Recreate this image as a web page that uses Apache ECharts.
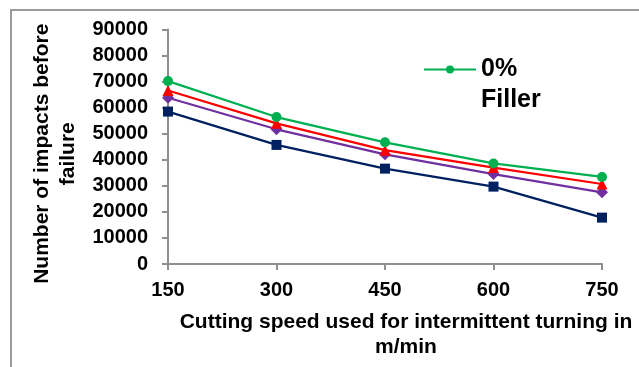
<!DOCTYPE html>
<html>
<head>
<meta charset="utf-8">
<script src="https://cdn.jsdelivr.net/npm/echarts@6/dist/echarts.min.js"></script>
<style>
  html, body { margin: 0; padding: 0; background: #ffffff; }
  #chart { width: 639px; height: 367px; }
</style>
</head>
<body>
<div id="chart"></div>
<script>
// Cutting speeds (m/min) on the category axis
const speeds = ['150', '300', '450', '600', '750'];

// Number of impacts before failure for each material
const filler0 = [70200, 56400, 46700, 38600, 33400];
const series2 = [66600, 54000, 43700, 37000, 30700];
const series3 = [63800, 51700, 42100, 34500, 27500];
const series4 = [58500, 45700, 36600, 29700, 17800];

const yTicks = { min: 0, max: 90000, step: 10000 };

const FONT = '"Liberation Sans", Arial, sans-serif';
const AXIS_GREY = '#8f8f8f';

const chart = echarts.init(document.getElementById('chart'), null, { renderer: 'canvas' });

function lineSeries(name, data, color, symbol, size) {
  return {
    name: name,
    type: 'line',
    data: data,
    symbol: symbol,
    symbolSize: size,
    showSymbol: true,
    smooth: false,
    lineStyle: { color: color, width: 2.25 },
    itemStyle: { color: color, borderWidth: 0 },
    emphasis: { disabled: true },
    animation: false
  };
}

chart.setOption({
  backgroundColor: '#ffffff',
  animation: false,
  grid: { left: 168, right: 37, top: 29.5, bottom: 103, containLabel: false },
  graphic: [{
    type: 'rect',
    shape: { x: 11, y: 10, width: 700, height: 500 },
    style: { fill: 'none', stroke: '#9a9a9a', lineWidth: 2 },
    silent: true,
    z: -10
  }],
  legend: {
    data: ['0% Filler'],
    left: 423,
    top: 23,
    padding: 0,
    itemWidth: 52,
    itemHeight: 10,
    itemGap: 6,
    selectedMode: false,
    formatter: function (name) { return ' \n' + name.replace(' ', '\n'); },
    textStyle: {
      fontFamily: FONT, fontWeight: 'bold', fontSize: 25, color: '#000000', lineHeight: 31
    }
  },
  xAxis: {
    type: 'category',
    data: speeds,
    boundaryGap: false,
    name: 'Cutting speed used for intermittent turning in\nm/min',
    nameLocation: 'middle',
    nameGap: 46,
    nameTextStyle: {
      fontFamily: FONT, fontWeight: 'bold', fontSize: 21, color: '#000000', lineHeight: 25,
      padding: [0, 0, 0, 42]
    },
    axisLine: { show: true, lineStyle: { color: AXIS_GREY, width: 2 } },
    axisTick: { show: true, inside: false, length: 6, alignWithLabel: true, lineStyle: { color: AXIS_GREY, width: 2 } },
    axisLabel: { fontFamily: FONT, fontWeight: 'bold', fontSize: 20, color: '#000000', margin: 16 },
    splitLine: { show: false }
  },
  yAxis: {
    type: 'value',
    min: yTicks.min,
    max: yTicks.max,
    interval: yTicks.step,
    name: 'Number of impacts before\nfailure',
    nameLocation: 'middle',
    nameGap: 75,
    nameRotate: 90,
    nameTextStyle: {
      fontFamily: FONT, fontWeight: 'bold', fontSize: 21, color: '#000000', lineHeight: 26,
      padding: [0, 14, 0, 0]
    },
    axisLine: { show: true, lineStyle: { color: AXIS_GREY, width: 2 } },
    axisTick: { show: true, inside: false, length: 6, lineStyle: { color: AXIS_GREY, width: 2 } },
    axisLabel: {
      fontFamily: FONT, fontWeight: 'bold', fontSize: 20, color: '#000000', margin: 20,
      formatter: function (v) { return String(v); }
    },
    splitLine: { show: false }
  },
  series: [
    lineSeries('Series 4', series4, '#002060', 'rect', 10),
    lineSeries('Series 3', series3, '#7030A0', 'diamond', 12),
    lineSeries('Series 2', series2, '#FF0000', 'triangle', 11),
    lineSeries('0% Filler', filler0, '#00B050', 'circle', 10)
  ]
});
</script>
</body>
</html>
